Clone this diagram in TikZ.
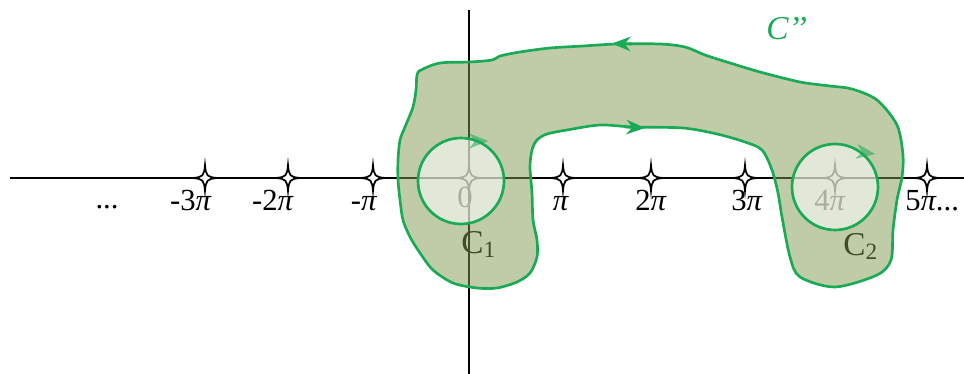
\documentclass[tikz,border=0pt]{standalone}
\usepackage{fontspec}
\setmainfont{Liberation Serif}
\usetikzlibrary{arrows.meta}
\definecolor{cgreen}{RGB}{25,170,85}
\definecolor{blobfill}{RGB}{129,153,81}
\tikzset{
  axis/.style={line width=1.5pt, black},
  lab/.style={font=\fontsize{23}{26}\selectfont, inner sep=0pt, anchor=base},
  clab/.style={font=\fontsize{23}{26}\selectfont, inner sep=0pt, anchor=base west},
  blob/.style={draw=cgreen, line width=2pt, fill=blobfill, fill opacity=0.5},
  hole/.style={draw=cgreen, line width=2pt, fill=white, fill opacity=0.55},
  flow/.style={draw=cgreen, line width=2pt, -{Stealth[length=14pt,width=11pt]}},
  fadeflow/.style={draw=cgreen, line width=0.1pt, -{Stealth[length=14pt,width=11pt]}, opacity=0.55},
  starmark/.pic={\draw[line width=1.3pt, fill=white]
     (0,-13) .. controls (1,-2) and (2,-1) .. (12,0)
     .. controls (2,1) and (1,2) .. (0,13)
     .. controls (-1,2) and (-2,1) .. (-12,0)
     .. controls (-2,-1) and (-1,-2) .. cycle;}
}
\begin{document}
\begin{tikzpicture}[x=0.75pt,y=-0.75pt]
\useasboundingbox (0,0) rectangle (964,374);
% axes
\coordinate (hl) at (10,178);
\coordinate (hr) at (964,178);
\coordinate (vt) at (469,10);
\coordinate (vb) at (469,374);
\draw[axis] (hl) -- (hr);
\draw[line width=1.2pt] (vt) -- (vb);
% stars
\foreach \px in {205,288,373,469,563,651,745,835,927}
  \pic at (\px,178) {starmark};
% labels
\node[lab] (ldots) at (107,209) {...};
\node[lab] (lm3) at (191,210) {-3\textit{π}};
\node[lab] (lm2) at (273,210) {-2\textit{π}};
\node[lab] (lm1) at (364,210) {-\textit{π}};
\node[lab] (l0) at (465,208) {0};
\node[lab] (l1) at (561,210) {\textit{π}};
\node[lab] (l2) at (651,210) {2\textit{π}};
\node[lab] (l3) at (747,210) {3\textit{π}};
\node[lab] (l4) at (830,210) {4\textit{π}};
\node[clab] (l5) at (905,210) {5\textit{π}...};
\node[clab,font=\fontsize{25}{28}\selectfont] (c1lab) at (461,253) {C\textsubscript{1}};
\node[clab,font=\fontsize{25}{28}\selectfont] (c2lab) at (843,255) {C\textsubscript{2}};
% region
\draw[blob] plot[smooth cycle, tension=0.5] coordinates {
(421,70) (440,63) (470,62) (492,60) (500,56) (520,52) (550,48) (583,46) (617,44)
(660,44) (685,47) (705,55) (730,63) (760,72) (800,82) (830,86) (852,89) (877,100)
(897,125) (903,155) (902,177) (897,200) (893,230) (891,260) (877,275) (835,287)
(800,277) (790,257) (782,217) (778,193) (772,170) (762,150) (745,142) (717,134)
(683,128) (633,127) (600,125) (567,130) (547,134) (537,140) (532,150) (530,167)
(532,193) (533,220) (537,240) (537,257) (530,273) (517,282) (497,288) (477,288)
(453,283) (433,270) (420,253) (410,237) (403,220) (400,200) (398,180) (398,160)
(400,140) (405,127) (413,107) (416,90) (417,75)};
\coordinate (ta) at (632,44);
\coordinate (tb) at (612,43.5);
\coordinate (ia) at (625,127);
\coordinate (ib) at (645,128);
\draw[flow] (ta) -- (tb);
\draw[flow] (ia) -- (ib);
% holes
\draw[hole] (461,181) circle[radius=43];
\draw[hole] (835,187) circle[radius=43];
\coordinate (a1) at (474,141);
\coordinate (b1) at (488,141);
\coordinate (a2) at (861,152);
\coordinate (b2) at (875,154);
\draw[fadeflow] (a1) -- (b1);
\draw[fadeflow] (a2) -- (b2);
\node[anchor=base west, inner sep=0pt, text=cgreen, font=\fontsize{25}{28}\selectfont\itshape] (cpp) at (766,40) {C’’};
\end{tikzpicture}
\end{document}
